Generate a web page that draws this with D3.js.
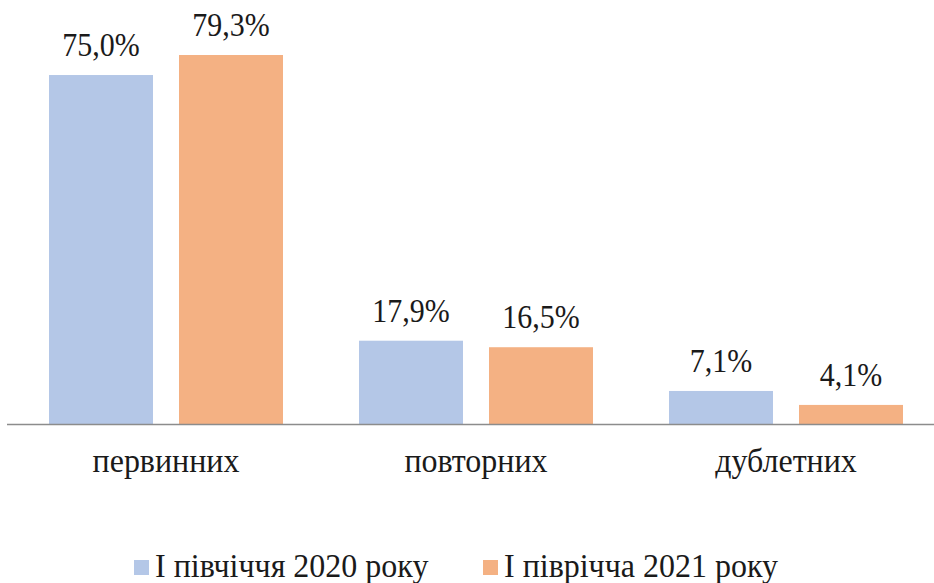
<!DOCTYPE html>
<html>
<head>
<meta charset="utf-8">
<script src="https://cdn.jsdelivr.net/npm/d3@7"></script>
<style>
  body { margin: 0; background: #fff; }
</style>
</head>
<body>
<svg id="chart" width="934" height="583"></svg>
<script>
// data
const categories = ["первинних", "повторних", "дублетних"];
const seriesNames = ["І півчіччя 2020 року", "І піврічча 2021 року"];
const values2020 = [75.0, 17.9, 7.1];
const values2021 = [79.3, 16.5, 4.1];
const colors = ["#b4c7e7", "#f4b183"];

const width = 934, height = 583;
const baseY = 424;
const FONT = "'Liberation Serif', 'Times New Roman', serif";

const svg = d3.select("#chart");

const rows = categories.map((c, i) => ({cat: c, vals: [values2020[i], values2021[i]]}));

const x0 = d3.scaleBand()
  .domain(categories)
  .range([11, 941])
  .paddingInner(0)
  .paddingOuter(0);

const x1 = d3.scaleBand()
  .domain([0, 1])
  .range([38, x0.bandwidth() - 38])
  .paddingInner(26 / 130)
  .paddingOuter(0);

const y = d3.scaleLinear()
  .domain([0, 90])
  .range([baseY, baseY - 90 * 4.653]);

const fmt = v => v.toFixed(1).replace(".", ",") + "%";

// text helper
function label(sel, size) {
  return sel
    .style("font-family", FONT)
    .style("font-size", size + "px")
    .style("fill", "#1a1a1a");
}

const groups = svg.selectAll("g.grp")
  .data(rows)
  .enter()
  .append("g")
  .attr("class", "grp")
  .attr("transform", d => "translate(" + x0(d.cat) + ",0)");

groups.selectAll("rect")
  .data(d => d.vals.map((v, i) => ({v: v, i: i})))
  .enter()
  .append("rect")
  .attr("x", d => x1(d.i))
  .attr("y", d => y(d.v))
  .attr("width", x1.bandwidth())
  .attr("height", d => baseY - y(d.v))
  .attr("fill", d => colors[d.i]);

// value labels (the reference text is a bit taller than wide)
groups.selectAll("text.val")
  .data(d => d.vals.map((v, i) => ({v: v, i: i})))
  .enter()
  .append("text")
  .attr("class", "val")
  .attr("transform", d => "translate(" + (x1(d.i) + x1.bandwidth() / 2) + "," + (y(d.v) - 19) + ") scale(1,1.12)")
  .attr("text-anchor", "middle")
  .call(label, 30)
  .text(d => fmt(d.v));

// axis line
svg.append("line")
  .attr("x1", 7)
  .attr("x2", width)
  .attr("y1", baseY + 0.5)
  .attr("y2", baseY + 0.5)
  .attr("stroke", "#8c8c8c")
  .attr("stroke-width", 1.5);

// category labels
svg.selectAll("text.cat")
  .data(categories)
  .enter()
  .append("text")
  .attr("class", "cat")
  .attr("transform", d => "translate(" + (x0(d) + x0.bandwidth() / 2) + ",472) scale(1,1.04)")
  .attr("text-anchor", "middle")
  .call(label, 32)
  .text(d => d);

// legend
const legendX = [134, 483];
const legend = svg.selectAll("g.leg")
  .data(seriesNames)
  .enter()
  .append("g")
  .attr("class", "leg")
  .attr("transform", (d, i) => "translate(" + legendX[i] + ",0)");

legend.append("rect")
  .attr("x", 0)
  .attr("y", 560)
  .attr("width", 15)
  .attr("height", 15)
  .attr("fill", (d, i) => colors[i]);

legend.append("text")
  .attr("transform", "translate(21,577) scale(1,1.04)")
  .call(label, 32)
  .text(d => d);
</script>
</body>
</html>
